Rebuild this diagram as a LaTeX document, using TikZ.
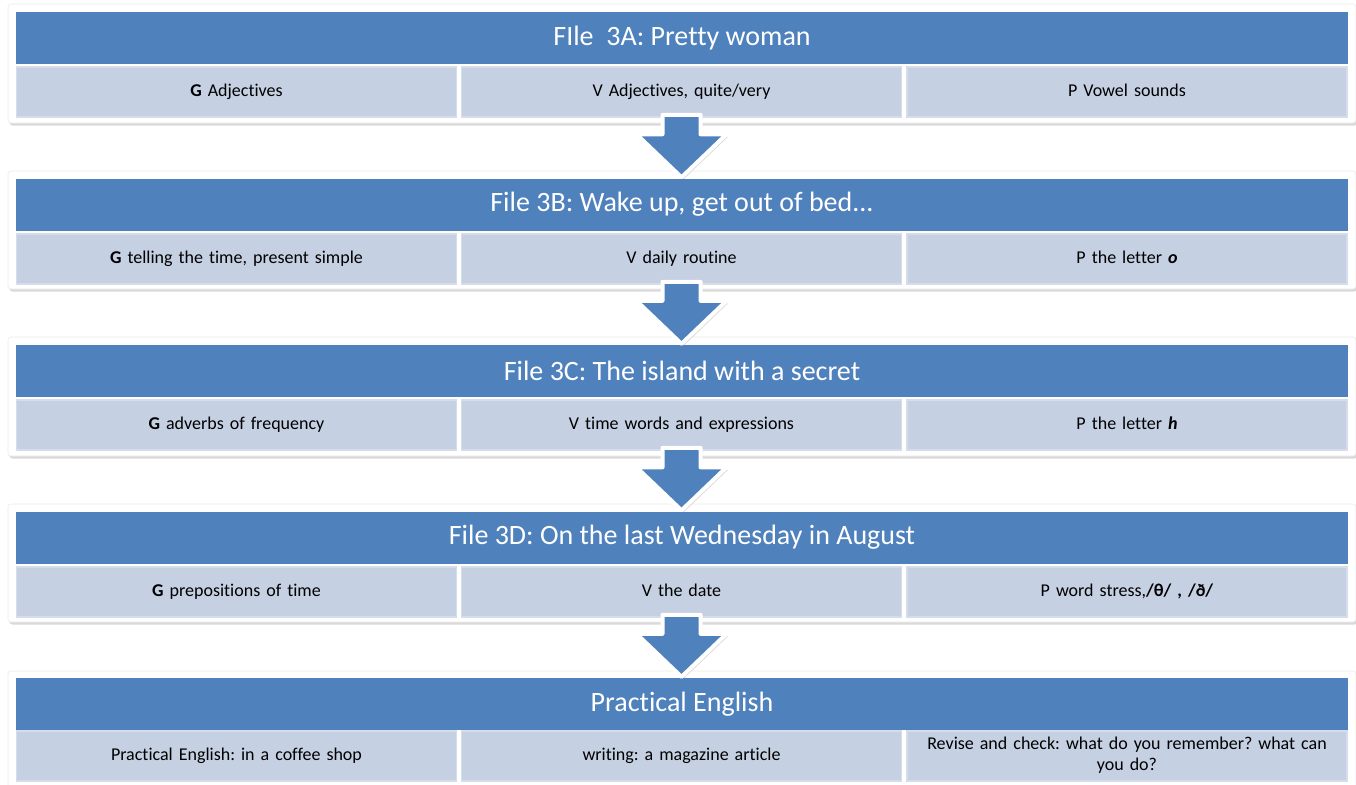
\documentclass[tikz,border=0pt]{standalone}
\usepackage{fontspec}
\setmainfont{Carlito}[Ligatures=CommonOff]
\usetikzlibrary{calc,shadows}
\frenchspacing

\definecolor{hdrblue}{RGB}{79,129,189}
\definecolor{cellblue}{RGB}{197,208,226}
\definecolor{celledge}{RGB}{213,221,235}

\tikzset{
	panel/.style={fill=white, draw=black!8, line width=0.6pt, rounded corners=3pt, drop shadow={shadow xshift=1.5pt, shadow yshift=-2.5pt, opacity=0.3}},
	hdr/.style={fill=hdrblue, text=white, minimum width=1332pt, minimum height=52pt, inner sep=0pt, font=\fontsize{28}{32}\selectfont},
	cell/.style={fill=cellblue, draw=celledge, line width=1.5pt, minimum width=440pt, minimum height=50pt, inner sep=2pt, text width=430pt, align=center, font=\fontsize{18}{21}\selectfont, execute at begin node=\strut, execute at end node=\strut},
	bigarrow/.style={fill=hdrblue, draw=white, line width=4pt, line join=round, drop shadow={shadow xshift=1.5pt, shadow yshift=-2.5pt, opacity=0.3},
		to path={let \p1=(\tikztostart), \p2=(\tikztotarget) in
			(\x1-19pt,\y1) -- (\x1-19pt,\y2+43pt) -- (\x1-45pt,\y2+43pt) -- (\x1,\y2)
			-- (\x1+45pt,\y2+43pt) -- (\x1+19pt,\y2+43pt) -- (\x1+19pt,\y1) -- cycle}}
}

\begin{document}
\begin{tikzpicture}[x=1pt,y=-1pt]
	\useasboundingbox (0,0) rectangle (1356,784);
	% File 3A
	\path[panel] (8,4) rectangle (1356,123);
	\node[hdr] (hdrA) at (682,38) {FIle\ \ 3A: Pretty woman};
	\node[cell] (gA) at (236.5,92) {\textbf{G} Adjectives};
	\node[cell] (vA) at (681.5,92) {V Adjectives, quite/very};
	\node[cell] (pA) at (1127,92) {P Vowel sounds};
	% File 3B
	\path[panel] (8,171) rectangle (1356,289);
	\node[hdr] (hdrB) at (682,204.5) {File 3B: Wake up, get out of bed...};
	\node[cell] (gB) at (236.5,259) {\textbf{G} telling the time, present simple};
	\node[cell] (vB) at (681.5,259) {V daily routine};
	\node[cell] (pB) at (1127,259) {P the letter \textbf{\textit{o}}};
	% File 3C
	\path[panel] (8,337) rectangle (1356,456);
	\node[hdr] (hdrC) at (682,371) {File 3C: The island with a secret};
	\node[cell] (gC) at (236.5,425) {\textbf{G} adverbs of frequency};
	\node[cell] (vC) at (681.5,425) {V time words and expressions};
	\node[cell] (pC) at (1127,425) {P the letter \textbf{\textit{h}}};
	% File 3D
	\path[panel] (8,504) rectangle (1356,622);
	\node[hdr] (hdrD) at (682,537.5) {File 3D: On the last Wednesday in August};
	\node[cell] (gD) at (236.5,592) {\textbf{G} prepositions of time};
	\node[cell] (vD) at (681.5,592) {V the date};
	\node[cell] (pD) at (1127,592) {P word stress,\textbf{/θ/ , /ð/}};
	% Practical English
	\path[panel] (8,671) rectangle (1356,792);
	\node[hdr] (hdrE) at (682,704) {Practical English};
	\node[cell] (gE) at (236.5,756) {Practical English: in a coffee shop};
	\node[cell] (vE) at (681.5,756) {writing: a magazine article};
	\node[cell] (pE) at (1127,756) {Revise and check: what do you remember? what can\\ you do?};
	% arrows
	\draw[bigarrow] ([yshift=3pt]vA.south) to ([yshift=1pt]hdrB.north);
	\draw[bigarrow] ([yshift=3pt]vB.south) to ([yshift=1pt]hdrC.north);
	\draw[bigarrow] ([yshift=3pt]vC.south) to ([yshift=1pt]hdrD.north);
	\draw[bigarrow] ([yshift=3pt]vD.south) to ([yshift=1pt]hdrE.north);
\end{tikzpicture}
\end{document}
